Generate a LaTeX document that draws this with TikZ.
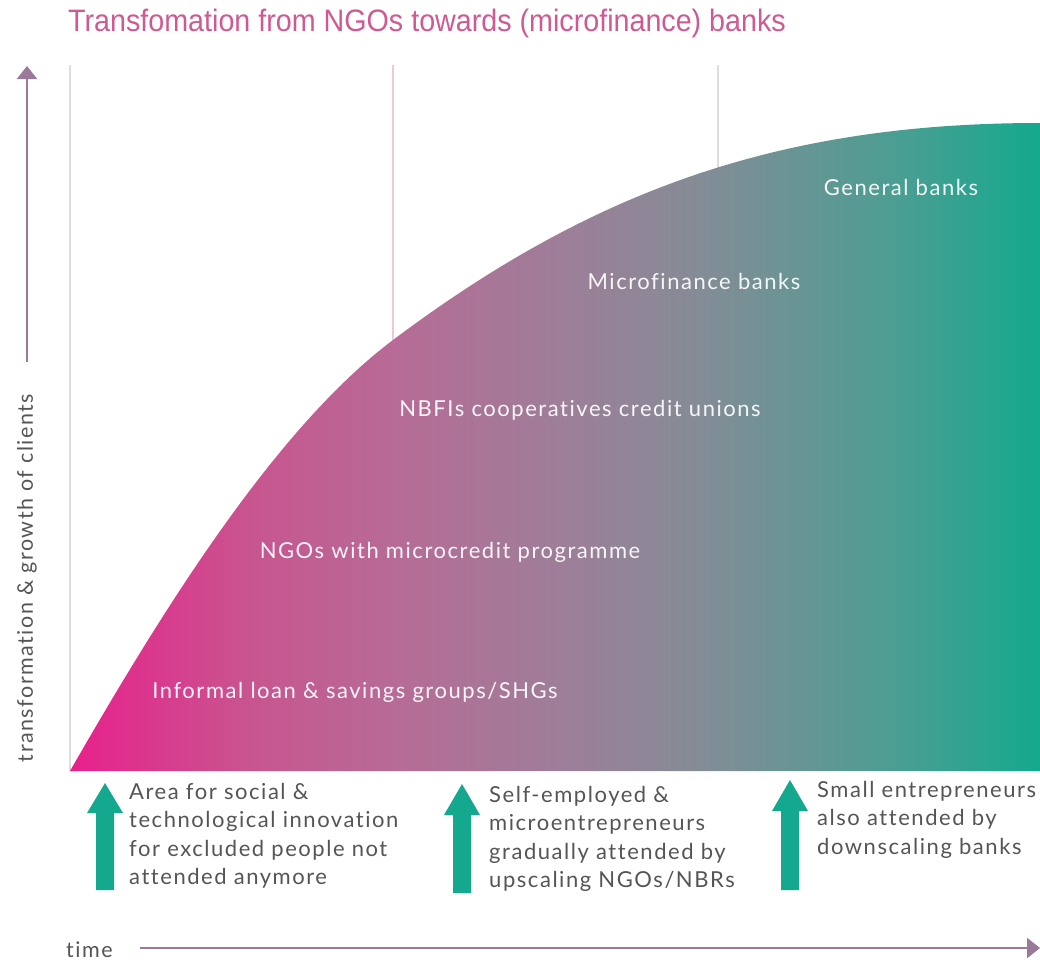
\documentclass[tikz,border=0pt]{standalone}
\usepackage{fontspec}
\setmainfont{Lato}[LetterSpace=7, Ligatures=NoCommon]
\newfontfamily\titlefont{Liberation Sans}[FakeStretch=0.925]
\usetikzlibrary{arrows.meta}
\definecolor{cpink}{HTML}{E8208C}
\definecolor{cteal}{HTML}{14A98E}
\definecolor{caxis}{HTML}{9A7A98}
\definecolor{ctitle}{HTML}{CF5A92}
\definecolor{cgrey}{HTML}{555555}
\definecolor{cline}{HTML}{DDDDDD}
\definecolor{cpline}{HTML}{F4C6DA}
\pgfdeclarehorizontalshading{curveshade}{100bp}{%
  color(0bp)=(cpink); color(25bp)=(cpink);
  color(34.3bp)=(rgb,255:red,200;green,85;blue,143);
  color(42bp)=(rgb,255:red,182;green,108;blue,150);
  color(50.2bp)=(rgb,255:red,158;green,126;blue,152);
  color(57.5bp)=(rgb,255:red,132;green,140;blue,150);
  color(67.8bp)=(rgb,255:red,74;green,158;blue,146);
  color(75bp)=(cteal); color(100bp)=(cteal)}
\tikzset{
  inner/.style={text=white, text opacity=0.93, font=\fontsize{22}{26}\selectfont, inner sep=0pt},
  note/.style={text=cgrey, font=\fontsize{22}{28.5}\selectfont, align=left, anchor=north west, inner sep=0pt},
  uparrow/.style={fill=cteal, draw=none},
  axisline/.style={draw=caxis, line width=2.6pt, -{Triangle[length=13pt,width=20pt]}},
}
\begin{document}
\begin{tikzpicture}[x=1pt,y=-1pt]
\useasboundingbox (0,0) rectangle (1040,961);
% title
\node[anchor=west, inner sep=0pt, text=ctitle, font=\titlefont\fontsize{31}{36}\selectfont] (title) at (68,23) {Transfomation from NGOs towards (microfinance) banks};
% guide lines
\draw[cline, line width=1.2pt] (70,65) -- (70,771);
\draw[cpline, line width=1.2pt] (393,65) -- (393,345);
\draw[cline, line width=1.2pt] (718,65) -- (718,172);
% curve area
\shade[shading=curveshade]
  (70,771) .. controls (158,618) and (273,430) .. (393,340)
  .. controls (593,190) and (780,123) .. (1040,123)
  -- (1040,771) -- cycle;
% inner labels
\node[inner] (gb) at (901,187) {General banks};
\node[inner] (mb) at (694,281) {Microfinance banks};
\node[inner] (nb) at (580,410) {NBFIs cooperatives credit unions};
\node[inner] (ng) at (450,552) {NGOs with microcredit programme};
\node[inner] (inf) at (355,692) {Informal loan \& savings groups/SHGs};
% vertical axis
\coordinate (ya) at (27,362);
\coordinate (yb) at (27,66);
\draw[axisline] (ya) -- (yb);
\node[rotate=90, text=cgrey, font=\fontsize{21.5}{24}\selectfont, inner sep=0pt] (ylab) at (27,578) {transformation \& growth of clients};
% time axis
\node[text=cgrey, font=\fontsize{21.5}{24}\selectfont, inner sep=0pt, anchor=west] (tlab) at (66,950) {time};
\coordinate (ta) at (140,948);
\coordinate (tb) at (1040,948);
\draw[axisline] (ta) -- (tb);
% teal arrows
\fill[uparrow] (96,890) -- (96,813) -- (87,813) -- (105,783) -- (123,813) -- (114,813) -- (114,890) -- cycle;
\fill[uparrow] (453,893) -- (453,815) -- (444,815) -- (462,784) -- (480,815) -- (471,815) -- (471,893) -- cycle;
\fill[uparrow] (781,890) -- (781,811) -- (772,811) -- (790,780) -- (808,811) -- (799,811) -- (799,890) -- cycle;
% notes
\node[note] (n1) at (129,783) {Area for social \&\\technological innovation\\for excluded people not\\attended anymore};
\node[note] (n2) at (489,786) {Self-employed \&\\microentrepreneurs\\gradually attended by\\upscaling NGOs/NBRs};
\node[note] (n3) at (817,781) {Small entrepreneurs\\also attended by\\downscaling banks};
\end{tikzpicture}
\end{document}
